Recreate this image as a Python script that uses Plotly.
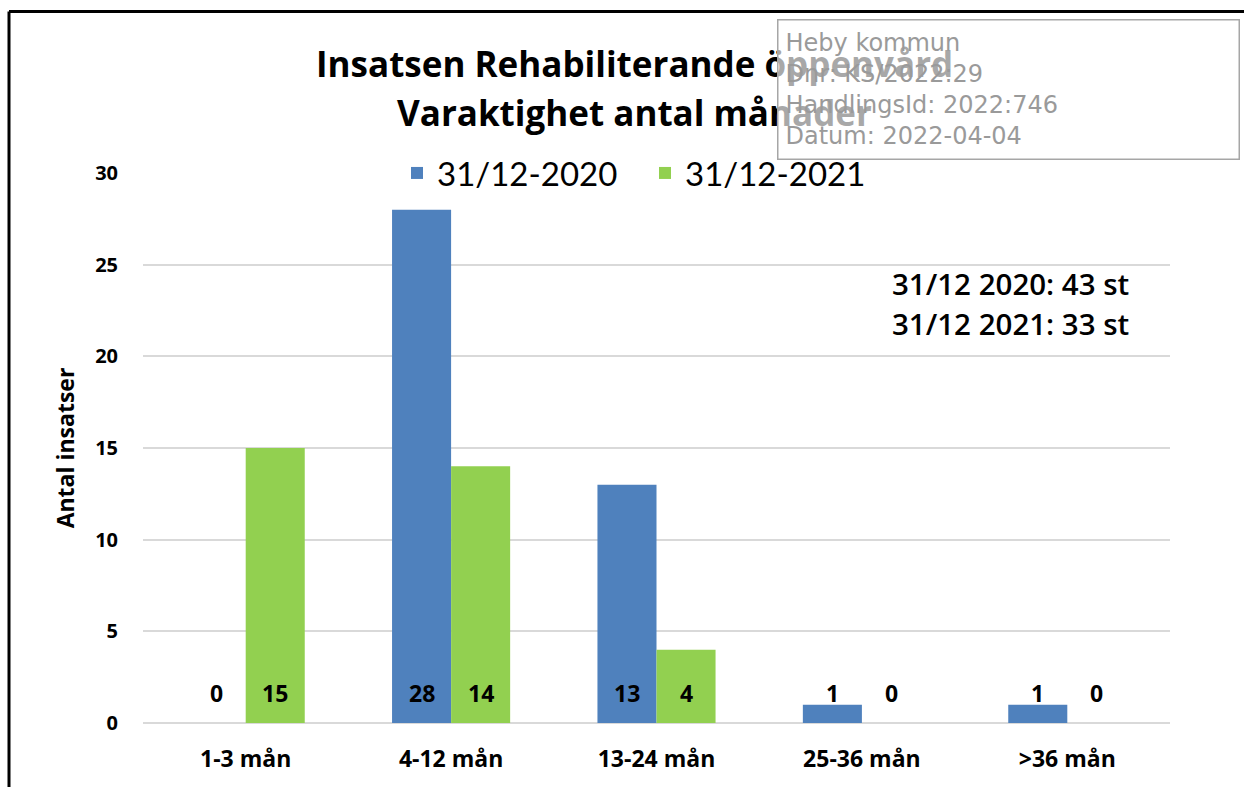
import plotly.graph_objects as go

categories = ["1-3 mån", "4-12 mån", "13-24 mån", "25-36 mån", ">36 mån"]
series_names = ["31/12-2020", "31/12-2021"]
values_2020 = [0, 28, 13, 1, 1]
values_2021 = [15, 14, 4, 0, 0]
colors = ["#4F81BD", "#92D050"]
y_ticks = [0, 5, 10, 15, 20, 25, 30]

title_lines = ["Insatsen Rehabiliterande öppenvård", "Varaktighet antal månader"]
total_labels = ["31/12 2020", "31/12 2021"]
stamp_lines = ["Heby kommun", "Dnr: KS/2022:29", "HandlingsId: 2022:746", "Datum: 2022-04-04"]

W, H = 1244, 787
L, R, T, B = 143, 1170, 173, 723


def px(x):
    return (x - L) / (R - L)


def py(y):
    return (B - y) / (B - T)


FONT = "Open Sans, Lato, sans-serif"

fig = go.Figure()
for name, vals, col in zip(series_names, [values_2020, values_2021], colors):
    fig.add_trace(go.Bar(x=categories, y=vals, name=name, marker=dict(color=col, line=dict(width=0)),
                         hoverinfo="x+y"))

# data labels near bar base
bar_px = (R - L) / len(categories) * (1 - 0.425) / 2
for i, vals in enumerate([values_2020, values_2021]):
    shift = (-0.5 if i == 0 else 0.5) * bar_px
    for c, v in zip(categories, vals):
        fig.add_annotation(x=c, y=1.65, xref="x", yref="y", text=str(v), showarrow=False,
                           xshift=shift, font=dict(family=FONT, size=23, color="#000", weight="bold"))

# totals annotation
totals = [sum(values_2020), sum(values_2021)]
for lab, tot, ypx in zip(total_labels, totals, [283, 323]):
    fig.add_annotation(xref="paper", yref="paper", x=px(890), y=py(ypx), xanchor="left", yanchor="middle",
                       align="left", showarrow=False, text=f"{lab}: {tot} st",
                       font=dict(family=FONT, size=29.5, color="#000", weight=600))

# title
for line, ypx in zip(title_lines, [63, 113]):
    fig.add_annotation(xref="paper", yref="paper", x=px(634), y=py(ypx), xanchor="center", yanchor="middle",
                       showarrow=False, text=line,
                       font=dict(family=FONT, size=35, color="#000", weight="bold"))

# stamp box (semi transparent, above title)
fig.add_annotation(xref="paper", yref="paper", x=px(777), y=py(19), xanchor="left", yanchor="top",
                   showarrow=False, align="left", valign="middle",
                   text="<br>".join(stamp_lines), width=446, height=124, borderpad=7,
                   bgcolor="rgba(255,255,255,0.66)", bordercolor="#a6a6a6", borderwidth=1.5,
                   font=dict(family="DejaVu Sans, sans-serif", size=24, color="#9a9a9a"))

# outer frame lines
fig.add_shape(type="line", xref="paper", yref="paper", x0=px(9), x1=px(9), y0=py(800), y1=py(11.5),
              line=dict(color="#000", width=3))
fig.add_shape(type="line", xref="paper", yref="paper", x0=px(9), x1=px(1250), y0=py(11.5), y1=py(11.5),
              line=dict(color="#000", width=3))

fig.update_layout(
    width=W, height=H,
    margin=dict(l=L, r=W - R, t=T, b=H - B, autoexpand=False),
    paper_bgcolor="white", plot_bgcolor="white",
    barmode="group", bargap=0.425, bargroupgap=0,
    showlegend=True,
    legend=dict(orientation="h", x=px(397), xanchor="left", y=py(173), yanchor="middle",
                font=dict(family="Lato, sans-serif", size=33, color="#000"), bgcolor="rgba(0,0,0,0)",
                itemwidth=30, tracegroupgap=0, entrywidth=203),
    xaxis=dict(showgrid=False, showline=False, zeroline=False, ticks="",
               ticklabelstandoff=20,
               tickfont=dict(family=FONT, size=23, color="#000", weight="bold")),
    yaxis=dict(range=[0, 30], tickvals=y_ticks, showgrid=True, gridcolor="#D9D9D9", gridwidth=2,
               zeroline=True, zerolinecolor="#D9D9D9", zerolinewidth=2, showline=False, ticks="",
               ticklabelstandoff=24,
               tickfont=dict(family=FONT, size=20, color="#000", weight="bold"),
               title=dict(text="Antal insatser", standoff=14,
                          font=dict(family=FONT, size=23, color="#000", weight="bold"))),
)

fig.write_html("out.html", config={"displayModeBar": False},
               post_script="document.body.style.margin='0px';")
